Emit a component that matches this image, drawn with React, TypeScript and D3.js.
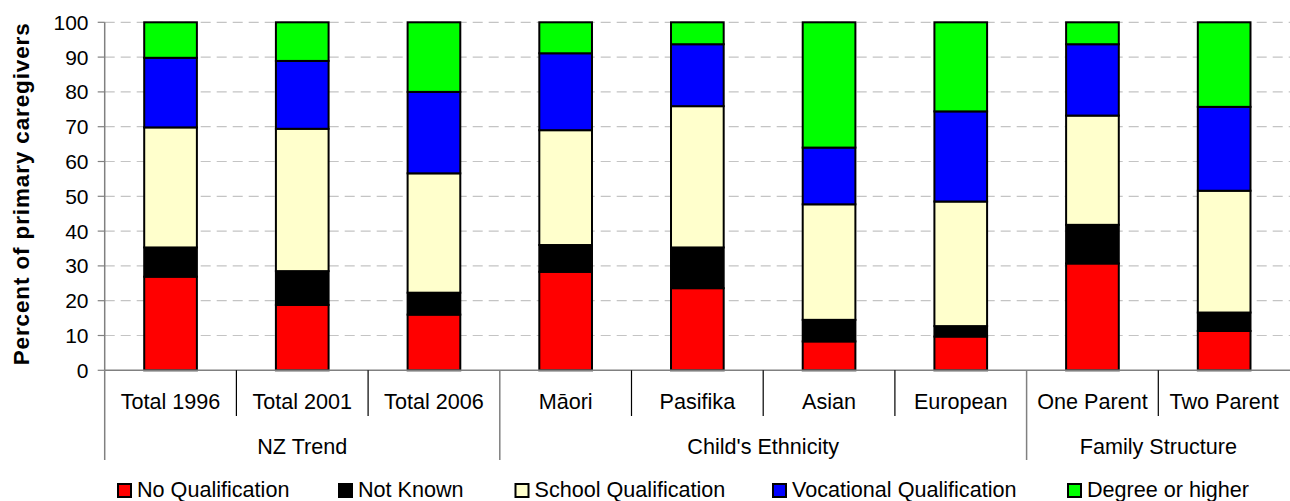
import React from "react";
import * as d3 from "d3";

const categories = ["Total 1996", "Total 2001", "Total 2006", "Māori", "Pasifika", "Asian", "European", "One Parent", "Two Parent"];
const groupNames = ["NZ Trend", "Child's Ethnicity", "Family Structure"];
const groupSizes = [3, 4, 2];

const seriesNames = ["No Qualification", "Not Known", "School Qualification", "Vocational Qualification", "Degree or higher"];
const seriesColors = ["#FF0000", "#000000", "#FFFFCC", "#0000FF", "#00FF00"];

const noQualification = [26.9, 18.8, 16.0, 28.3, 23.6, 8.3, 9.7, 30.7, 11.3];
const notKnown = [8.4, 9.7, 6.3, 7.7, 11.7, 6.2, 3.0, 11.1, 5.3];
const schoolQualification = [34.5, 40.9, 34.3, 33.0, 40.6, 33.2, 35.8, 31.4, 35.0];
const vocationalQualification = [20.0, 19.5, 23.4, 22.1, 17.8, 16.3, 25.9, 20.5, 24.1];
const degreeOrHigher = [10.2, 11.1, 20.0, 8.9, 6.3, 36.0, 25.6, 6.3, 24.3];

const yTicks = [0, 10, 20, 30, 40, 50, 60, 70, 80, 90, 100];

const W = 1290;
const H = 501;
const M = { left: 104.7, right: 1290, top: 22.3, bottom: 370.3 };
const FONT = "'Liberation Sans', Arial, sans-serif";
const legendX = [117, 338, 514.5, 772, 1067];

export default function App() {
  const seriesValues = [noQualification, notKnown, schoolQualification, vocationalQualification, degreeOrHigher];
  const rows = categories.map((c, i) => {
    const r: any = { cat: c };
    seriesNames.forEach((s, j) => (r[s] = seriesValues[j][i]));
    return r;
  });
  const stacked = d3.stack<any>().keys(seriesNames)(rows);

  const x = d3.scaleBand().domain(categories).range([M.left, M.right]).paddingInner(0.6).paddingOuter(0.3);
  const y = d3.scaleLinear().domain([0, 100]).range([M.bottom, M.top]);
  const step = x.step();
  const boundary = (i: number) => M.left + i * step;

  const groupStarts: number[] = [];
  let acc = 0;
  groupSizes.forEach((s) => {
    groupStarts.push(acc);
    acc += s;
  });

  return (
    <svg width={W} height={H} style={{ position: "absolute", left: 0, top: 0, background: "#fff" }} fontFamily={FONT}>
      {/* gridlines */}
      {yTicks.filter((t) => t > 0).map((t) => (
        <line key={"g" + t} x1={M.left} x2={M.right} y1={y(t)} y2={y(t)} stroke="#c4c4c4" strokeWidth={1.2} strokeDasharray="10,6" />
      ))}
      {/* y ticks & labels */}
      {yTicks.map((t) => (
        <g key={"t" + t}>
          <line x1={M.left - 7} x2={M.left} y1={y(t)} y2={y(t)} stroke="#808080" strokeWidth={1.2} />
          <text x={88.5} y={y(t)} textAnchor="end" dominantBaseline="central" fontSize={21} fill="#000">{t}</text>
        </g>
      ))}
      {/* bars */}
      {stacked.map((s, j) => (
        <g key={s.key} fill={seriesColors[j]}>
          {s.map((d, i) => (
            <rect key={i} x={x(categories[i])} width={x.bandwidth()} y={y(d[1])} height={y(d[0]) - y(d[1])} stroke="#000" strokeWidth={2} />
          ))}
        </g>
      ))}
      {/* axes */}
      <line x1={M.left} x2={M.left} y1={M.top} y2={M.bottom} stroke="#808080" strokeWidth={1.5} />
      <line x1={M.left} x2={M.right} y1={M.bottom} y2={M.bottom} stroke="#808080" strokeWidth={1.5} />
      {/* category separators */}
      {categories.map((_, i) => {
        const isGroup = groupStarts.includes(i);
        return (
          <line key={"s" + i} x1={boundary(i)} x2={boundary(i)} y1={M.bottom} y2={isGroup ? 460 : 416} stroke={isGroup ? "#808080" : "#000"} strokeWidth={isGroup ? 1.5 : 1.2} />
        );
      })}
      {/* category labels */}
      {categories.map((c) => (
        <text key={"c" + c} x={(x(c) as number) + x.bandwidth() / 2} y={409.3} textAnchor="middle" fontSize={21.6} fill="#000">{c}</text>
      ))}
      {/* group labels */}
      {groupNames.map((g, k) => {
        const cx = (boundary(groupStarts[k]) + boundary(groupStarts[k] + groupSizes[k])) / 2;
        return (
          <text key={"gr" + g} x={cx} y={454} textAnchor="middle" fontSize={21.6} fill="#000">{g}</text>
        );
      })}
      {/* y title */}
      <text transform={`translate(28.5, ${(M.top + M.bottom) / 2 - 2}) rotate(-90)`} textAnchor="middle" fontSize={22.5} fontWeight="bold" fill="#000" textLength={342} lengthAdjust="spacing">Percent of primary caregivers</text>
      {/* legend */}
      {seriesNames.map((s, j) => (
        <g key={"l" + s} transform={`translate(${legendX[j]}, 483)`}>
          <rect x={1} y={1} width={13} height={13} fill={seriesColors[j]} stroke="#000" strokeWidth={2} />
          <text x={20} y={14.3} fontSize={21.6} fill="#000">{s}</text>
        </g>
      ))}
    </svg>
  );
}
